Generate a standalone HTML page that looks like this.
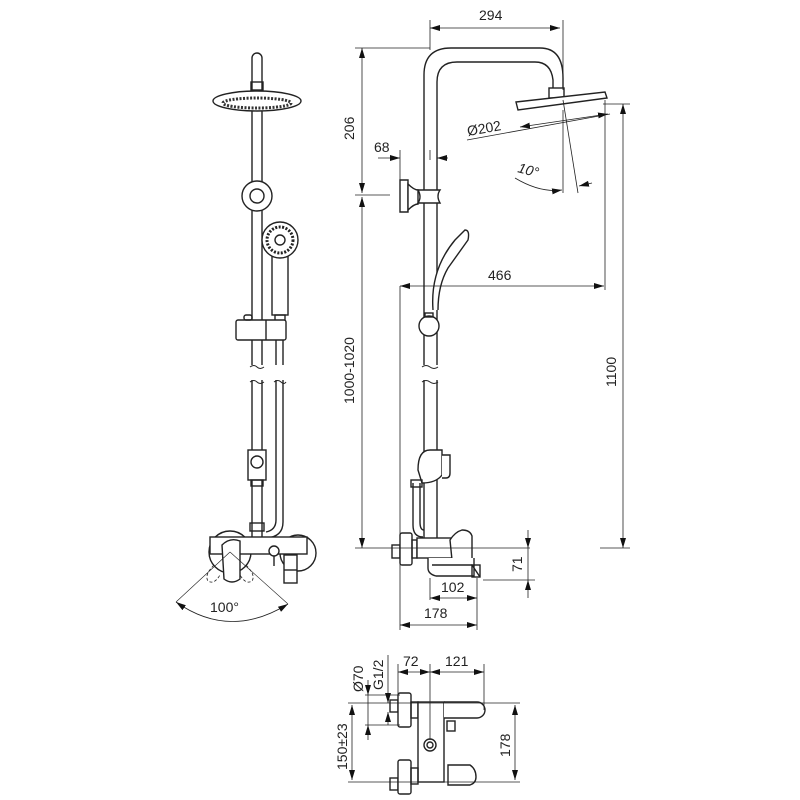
<!DOCTYPE html>
<html><head><meta charset="utf-8"><style>html,body{margin:0;padding:0;background:#fff}svg{display:block}</style></head>
<body>
<svg width="800" height="800" viewBox="0 0 800 800" xmlns="http://www.w3.org/2000/svg" font-family="Liberation Sans, Arial, sans-serif" font-size="14" fill="none" stroke="#222" stroke-width="1.4">
<defs>
<marker id="a" viewBox="0 0 10 6" refX="10" refY="3" markerWidth="10" markerHeight="6" orient="auto-start-reverse" markerUnits="userSpaceOnUse"><path d="M0,0L10,3L0,6z" fill="#111" stroke="none"/></marker>
</defs>

<!-- ========== FRONT VIEW ========== -->
<g>
<path d="M252,365V58a5,5 0 0 1 10,0V365"/>
<path d="M250,367q4,-3 7,0q3,3 7,0" stroke-width="1"/>
<rect x="251" y="82" width="12" height="8"/>
<ellipse cx="257" cy="101" rx="44" ry="10" fill="#fff"/>
<ellipse cx="257" cy="103" rx="34" ry="5" stroke="#333" stroke-width="3" stroke-dasharray="2 1.5"/>
<circle cx="257" cy="196" r="15" fill="#fff"/>
<circle cx="257" cy="196" r="7" fill="#fff"/>
<rect x="272" y="255" width="16" height="60" fill="#fff"/>
<circle cx="280" cy="240" r="18" fill="#fff"/>
<circle cx="280" cy="240" r="13" stroke-width="3" stroke-dasharray="2 1.5"/>
<circle cx="280" cy="240" r="5"/>
<rect x="275" y="315" width="10" height="6"/>
<rect x="236" y="320" width="50" height="20" rx="2" fill="#fff"/>
<line x1="266" y1="320" x2="266" y2="340"/>
<rect x="244" y="315" width="8" height="5" rx="2"/>
<path d="M276,340V365M283,340V365"/>
<path d="M250,382q4,-3 7,0q3,3 7,0M274,382q4,-3 7,0q3,3 5,0" stroke-width="1"/>
<path d="M252,380V537M262,380V537"/>
<path d="M276,380V520q0,10 -10,12M283,380V522q0,15 -17,16"/>
<rect x="248" y="450" width="18" height="30" fill="#fff"/>
<circle cx="257" cy="462" r="6" fill="#fff"/>
<rect x="251" y="480" width="12" height="6"/>
<rect x="250" y="523" width="14" height="8"/>
<circle cx="230" cy="552" r="21" fill="#fff"/>
<circle cx="298" cy="553" r="18" fill="#fff"/>
<rect x="210" y="537" width="97" height="17" fill="#fff"/>
<path d="M222,545q8,-8 18,-4l0,38q-8,6 -16,0z" fill="#fff"/>
<path d="M214,565q-10,10 -6,16q6,4 12,-6M246,565q10,10 6,16q-6,4 -12,-6" stroke-dasharray="3 2" stroke-width="0.8"/>
<circle cx="274" cy="551" r="5" fill="#fff"/>
<path d="M274,556V566"/>
<rect x="284" y="555" width="13" height="28" fill="#fff"/>
<path d="M284,570H297"/>
<path d="M176,602Q230,640 288,604" stroke-width="0.8" marker-start="url(#a)" marker-end="url(#a)"/>
<path d="M230,552L176,602M230,552L288,604" stroke-width="0.6"/>
<text x="210" y="612" fill="#222" stroke="none">100°</text>
</g>

<!-- ========== SIDE VIEW ========== -->
<g>
<path d="M424,365V75q0,-27 27,-27H540q23,0 23,30V90" />
<path d="M437,365V82q0,-20 20,-20H535q16,0 18,18V90"/>
<path d="M422,367q4,-3 8,0q4,3 8,0" stroke-width="1"/>
<rect x="549" y="88" width="15" height="10" fill="#fff"/>
<path d="M516,102L605,92L607,98L518,110Z" fill="#fff"/>
<path d="M400,180h8v32h-8z" fill="#fff"/>
<path d="M408,184q6,6 10,6v14q-4,0 -10,6z" fill="#fff"/>
<path d="M418,190h22q-4,6 0,13h-22q4,-6 0,-13z" fill="#fff"/>
<path d="M433,310Q430,270 455,240L465,230q5,0 3,10L448,268Q438,285 438,310" fill="#fff"/>
<circle cx="429" cy="326" r="10" fill="#fff"/>
<rect x="425" y="313" width="8" height="4"/>
<path d="M422,382q4,-3 8,0q4,3 8,0" stroke-width="1"/>
<path d="M424,380V538M437,380V538"/>
<path d="M418,470q0,-20 12,-20h12l0,25q-6,8 -20,8z" fill="#fff"/>
<path d="M442,455h8v18q0,5 -4,5h-4" fill="#fff"/>
<path d="M413,483V525q0,12 10,12M420,483V522q0,8 4,8"/>
<rect x="411" y="480" width="11" height="7"/>
<rect x="392" y="545" width="8" height="13"/>
<rect x="400" y="533" width="12" height="32" rx="2" fill="#fff"/>
<rect x="412" y="540" width="5" height="18"/>
<rect x="417" y="538" width="50" height="20" fill="#fff"/>
<path d="M450,540q5,-8 12,-10q8,0 10,6V560q-8,5 -20,0z" fill="#fff"/>
<path d="M428,558v10q0,6 8,8h38v-18M432,565h40l8,12" fill="#fff"/>
<rect x="472" y="565" width="8" height="12"/>
</g>

<g stroke-width="0.8">
<line x1="430" y1="28" x2="560" y2="28" marker-start="url(#a)" marker-end="url(#a)"/>
<line x1="430" y1="20" x2="430" y2="50"/><line x1="563" y1="20" x2="563" y2="90"/>
<line x1="355" y1="48" x2="430" y2="48"/>
<line x1="362" y1="48" x2="362" y2="193" marker-start="url(#a)" marker-end="url(#a)"/>
<line x1="355" y1="195" x2="390" y2="195"/>
<line x1="362" y1="197" x2="362" y2="548" marker-start="url(#a)" marker-end="url(#a)"/>
<line x1="355" y1="548" x2="530" y2="548"/>
<line x1="378" y1="158" x2="400" y2="158" marker-end="url(#a)"/>
<line x1="448" y1="158" x2="437" y2="158" marker-end="url(#a)"/>
<line x1="400" y1="150" x2="400" y2="180"/><line x1="430" y1="150" x2="430" y2="160"/>
<line x1="467" y1="140" x2="610" y2="114"/>
<line x1="520" y1="127" x2="608" y2="114" marker-start="url(#a)" marker-end="url(#a)"/>
<line x1="563" y1="110" x2="563" y2="193"/>
<line x1="563" y1="100" x2="578" y2="193"/>
<path d="M515,178Q540,193 562,190" marker-end="url(#a)"/>
<line x1="592" y1="183" x2="579" y2="186" marker-end="url(#a)"/>
<line x1="605" y1="100" x2="605" y2="290"/>
<line x1="603" y1="104" x2="630" y2="104"/>
<line x1="623" y1="104" x2="623" y2="548" marker-start="url(#a)" marker-end="url(#a)"/>
<line x1="600" y1="548" x2="630" y2="548"/>
<line x1="400" y1="286" x2="604" y2="286" marker-start="url(#a)" marker-end="url(#a)"/>
<line x1="400" y1="286" x2="400" y2="630"/>
<line x1="528" y1="530" x2="528" y2="548" marker-end="url(#a)"/>
<line x1="528" y1="598" x2="528" y2="580" marker-end="url(#a)"/>
<line x1="483" y1="580" x2="535" y2="580"/>
<line x1="528" y1="548" x2="528" y2="580"/>
<line x1="430" y1="598" x2="477" y2="598" marker-start="url(#a)" marker-end="url(#a)"/>
<line x1="430" y1="578" x2="430" y2="600"/><line x1="477" y1="578" x2="477" y2="630"/>
<line x1="400" y1="625" x2="477" y2="625" marker-start="url(#a)" marker-end="url(#a)"/>
</g>
<g fill="#222" stroke="none">
<text x="479" y="20">294</text>
<text x="374" y="152">68</text>
<text x="468" y="136" transform="rotate(-10 468 136)">Ø202</text>
<text x="517" y="172" font-style="italic" transform="rotate(15 517 172)">10°</text>
<text x="488" y="280">466</text>
<text x="441" y="592">102</text>
<text x="424" y="618">178</text>
<text transform="translate(354 140) rotate(-90)">206</text>
<text transform="translate(354 404) rotate(-90)">1000-1020</text>
<text transform="translate(616 387) rotate(-90)">1100</text>
<text transform="translate(522 572) rotate(-90)">71</text>
</g>

<!-- ========== BOTTOM VIEW ========== -->
<g>
<rect x="390" y="700" width="8" height="12"/>
<rect x="398" y="693" width="13" height="34" rx="2" fill="#fff"/>
<rect x="411" y="702" width="7" height="16"/>
<rect x="418" y="702" width="26" height="80" fill="#fff"/>
<path d="M444,702H477a8,8 0 0 1 0,16H444" fill="#fff"/>
<rect x="447" y="721" width="8" height="10"/>
<circle cx="430" cy="745" r="6"/><circle cx="430" cy="745" r="3"/>
<rect x="390" y="778" width="8" height="12"/>
<rect x="398" y="760" width="13" height="34" rx="2" fill="#fff"/>
<rect x="411" y="768" width="7" height="16"/>
<path d="M448,765h22q6,4 6,12q0,6 -6,8h-22z" fill="#fff"/>
</g>
<g stroke-width="0.8">
<line x1="398" y1="672" x2="430" y2="672" marker-start="url(#a)" marker-end="url(#a)"/>
<line x1="430" y1="672" x2="484" y2="672" marker-start="url(#a)" marker-end="url(#a)"/>
<line x1="398" y1="664" x2="398" y2="695"/><line x1="430" y1="664" x2="430" y2="740"/><line x1="484" y1="664" x2="484" y2="710"/>
<line x1="368" y1="680" x2="368" y2="695" marker-end="url(#a)"/>
<line x1="368" y1="740" x2="368" y2="725" marker-end="url(#a)"/>
<line x1="368" y1="695" x2="368" y2="725"/>
<line x1="365" y1="695" x2="400" y2="695"/><line x1="365" y1="725" x2="400" y2="725"/>
<line x1="388" y1="655" x2="388" y2="703" marker-end="url(#a)"/>
<line x1="388" y1="725" x2="388" y2="712" marker-end="url(#a)"/>
<line x1="352" y1="705" x2="352" y2="780" marker-start="url(#a)" marker-end="url(#a)"/>
<line x1="348" y1="703" x2="520" y2="703"/>
<line x1="348" y1="782" x2="520" y2="782"/>
<line x1="515" y1="705" x2="515" y2="780" marker-start="url(#a)" marker-end="url(#a)"/>
</g>
<g fill="#222" stroke="none">
<text x="403" y="666">72</text>
<text x="445" y="666">121</text>
<text transform="translate(363 692) rotate(-90)">Ø70</text>
<text transform="translate(383 690) rotate(-90)">G1/2</text>
<text transform="translate(347 770) rotate(-90)">150±23</text>
<text transform="translate(510 757) rotate(-90)">178</text>
</g>
</svg>
</body></html>
